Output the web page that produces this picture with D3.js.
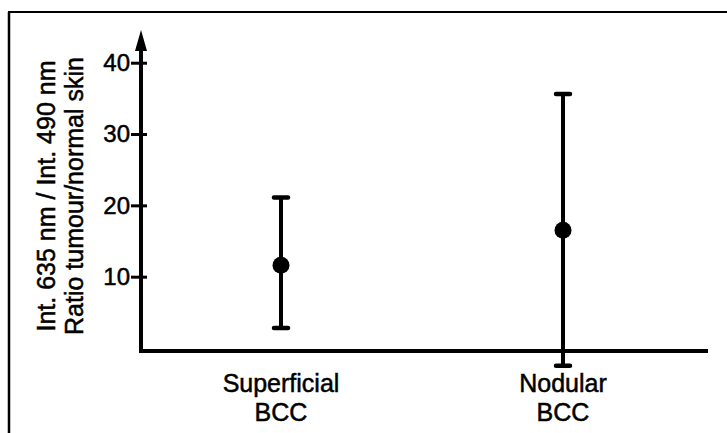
<!DOCTYPE html>
<html>
<head>
<meta charset="utf-8">
<script src="https://cdn.jsdelivr.net/npm/d3@7"></script>
<style>
  html, body { margin: 0; padding: 0; background: #fff; }
  svg { display: block; font-family: "Liberation Sans", Arial, Helvetica, sans-serif; }
  svg text { stroke: #000; stroke-width: 0.5px; }
</style>
</head>
<body>
<div id="chart"></div>
<script>
// categories and values (ratio tumour / normal skin)
const categories = ['Superficial', 'Nodular'];
const catLine2   = ['BCC', 'BCC'];
const means      = [11.6, 16.5];
const lows       = [2.8, -2.5];
const highs      = [21.1, 35.6];
const yTicks     = [10, 20, 30, 40];

const W = 727, H = 433;

const svg = d3.select('#chart')
  .append('svg')
  .attr('width', W)
  .attr('height', H);

const x = d3.scalePoint().domain(categories).range([281, 563]);
const y = d3.scaleLinear().domain([0, 40]).range([348, 62.7]);

const axisX = 141, baseY = 351;

// frame (top and left edges only)
svg.append('line')
  .attr('x1', 8).attr('x2', W).attr('y1', 12).attr('y2', 12)
  .attr('stroke', '#000').attr('stroke-width', 2);
svg.append('line')
  .attr('x1', 9).attr('x2', 9).attr('y1', 12).attr('y2', H)
  .attr('stroke', '#000').attr('stroke-width', 2.5);

// y axis with ticks that cross the line
const gy = svg.append('g')
  .attr('transform', `translate(${axisX},0)`)
  .attr('font-size', null)
  .call(d3.axisLeft(y).tickValues(yTicks).tickSize(10).tickPadding(1));
gy.select('.domain').remove();
gy.selectAll('.tick line')
  .attr('x1', 6)
  .attr('stroke', '#000')
  .attr('stroke-width', 3);
gy.selectAll('.tick text')
  .style('font-size', '24px')
  .attr('fill', '#000')
  .attr('font-family', '"Liberation Sans", Arial, sans-serif');

// axis lines + arrow head
svg.append('line')
  .attr('x1', axisX).attr('x2', axisX)
  .attr('y1', baseY + 2).attr('y2', 45)
  .attr('stroke', '#000').attr('stroke-width', 4);
svg.append('path')
  .attr('d', `M${axisX},30 L${axisX - 6},51 L${axisX + 6},51 Z`)
  .attr('fill', '#000');
svg.append('line')
  .attr('x1', axisX - 2).attr('x2', 708)
  .attr('y1', baseY).attr('y2', baseY)
  .attr('stroke', '#000').attr('stroke-width', 4);

// error bars
const bars = svg.append('g')
  .selectAll('g')
  .data(categories)
  .join('g');

bars.append('line')
  .attr('x1', d => x(d)).attr('x2', d => x(d))
  .attr('y1', (d, i) => y(lows[i])).attr('y2', (d, i) => y(highs[i]))
  .attr('stroke', '#000').attr('stroke-width', 4);

bars.selectAll('.cap')
  .data((d, i) => [lows[i], highs[i]].map(v => ({ c: d, v })))
  .join('line')
  .attr('class', 'cap')
  .attr('x1', d => x(d.c) - 7).attr('x2', d => x(d.c) + 7)
  .attr('y1', d => y(d.v)).attr('y2', d => y(d.v))
  .attr('stroke', '#000').attr('stroke-width', 4.5)
  .attr('stroke-linecap', 'round');

bars.append('circle')
  .attr('cx', d => x(d))
  .attr('cy', (d, i) => y(means[i]))
  .attr('r', 8.5)
  .attr('fill', '#000');

// category labels
const labels = svg.append('g')
  .selectAll('text')
  .data(categories)
  .join('text')
  .attr('x', d => x(d))
  .attr('y', 392)
  .attr('text-anchor', 'middle')
  .style('font-size', '25px')
  .attr('fill', '#000');
labels.append('tspan').text(d => d);
labels.append('tspan')
  .attr('x', d => x(d))
  .attr('dy', 29)
  .text((d, i) => catLine2[i]);

// y axis title, two lines
const title = svg.append('text')
  .attr('transform', 'rotate(-90)')
  .attr('text-anchor', 'middle')
  .style('font-size', '25px')
  .attr('fill', '#000');
title.append('tspan').attr('x', -196).attr('y', 55).text('Int. 635 nm / Int. 490 nm');
title.append('tspan').attr('x', -196).attr('y', 83).text('Ratio tumour/normal skin');
</script>
</body>
</html>
